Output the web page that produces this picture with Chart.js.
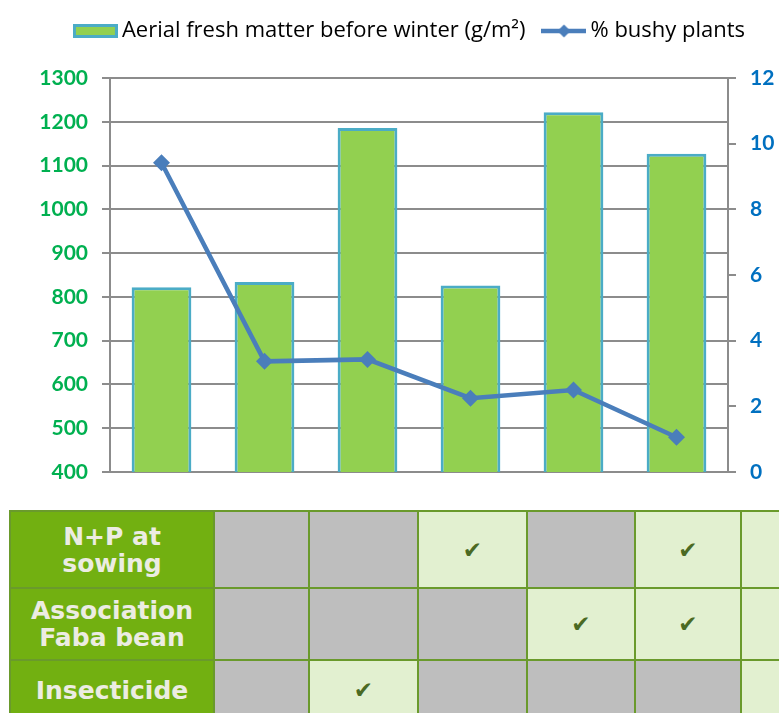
<!DOCTYPE html>
<html>
<head>
<meta charset="utf-8">
<script src="https://cdn.jsdelivr.net/npm/chart.js@4/dist/chart.umd.min.js"></script>
<style>
    html, body {
        margin: 0;
        padding: 0;
        background: #ffffff;
        width: 779px;
        height: 713px;
        overflow: hidden;
        position: relative;
    }
    #chart-wrap {
        position: absolute;
        left: 0;
        top: 0;
        width: 779px;
        height: 500px;
    }
    #treatments {
        position: absolute;
        left: 9px;
        top: 510px;
        width: 837px;
        border-collapse: collapse;
        table-layout: fixed;
        font-family: "DejaVu Sans", sans-serif;
    }
    #treatments td {
        border: 2px solid #6a9a2c;
        padding: 0;
        text-align: center;
        vertical-align: middle;
    }
    #treatments td.row-head {
        background: #72b011;
        color: #ecece2;
        font-weight: bold;
        font-size: 25px;
        line-height: 27px;
    }
    #treatments td.off {
        background: #bebebe;
    }
    #treatments td.on {
        background: #e2f0d0;
        color: #4b6a23;
        font-size: 23px;
    }
</style>
</head>
<body>
<div id="chart-wrap">
    <canvas id="fresh-matter-chart" width="779" height="500"></canvas>
</div>
<table id="treatments"></table>

<script>
const categories = ['T1', 'T2', 'T3', 'T4', 'T5', 'T6'];
const freshMatter = [822, 834, 1186, 826, 1222, 1127];
const bushyPlants = [9.42, 3.37, 3.43, 2.25, 2.5, 1.06];

const leftTicks = { min: 400, max: 1300, step: 100 };
const rightTicks = { min: 0, max: 12, step: 2 };

const treatmentRows = ['N+P at<br>sowing', 'Association<br>Faba bean', 'Insecticide'];
const npAtSowing = [0, 0, 1, 0, 1, 1];
const fabaBean = [0, 0, 0, 1, 1, 1];
const insecticide = [0, 1, 0, 0, 0, 1];

const barFill = '#92d050';
const barBorder = '#4bacc6';
const lineColor = '#4a7ebb';
const gridColor = '#8c8c8c';

// legend swatches drawn as small canvases so they look like the Excel ones
function barSwatch() {
    const c = document.createElement('canvas');
    c.width = 45;
    c.height = 14;
    const ctx = c.getContext('2d');
    ctx.fillStyle = barFill;
    ctx.fillRect(1.5, 1.5, 42, 11);
    ctx.strokeStyle = barBorder;
    ctx.lineWidth = 3;
    ctx.strokeRect(1.5, 1.5, 42, 11);
    return c;
}

function lineSwatch() {
    const c = document.createElement('canvas');
    c.width = 45;
    c.height = 16;
    const ctx = c.getContext('2d');
    ctx.strokeStyle = lineColor;
    ctx.lineWidth = 4.5;
    ctx.beginPath();
    ctx.moveTo(0, 8);
    ctx.lineTo(45, 8);
    ctx.stroke();
    ctx.fillStyle = lineColor;
    ctx.beginPath();
    ctx.moveTo(22.5, 1.5);
    ctx.lineTo(29, 8);
    ctx.lineTo(22.5, 14.5);
    ctx.lineTo(16, 8);
    ctx.closePath();
    ctx.fill();
    return c;
}

const swatches = [barSwatch(), lineSwatch()];

// room under the legend, and nudge the legend row a bit to the right
const legendSpacer = {
    id: 'legendSpacer',
    beforeLayout(chart) {
        const legend = chart.legend;
        if (!legend || legend._spaced) {
            return;
        }
        const fit = legend.fit.bind(legend);
        legend.fit = function () {
            fit();
            this.height += 26;
            this.lineWidths[0] -= 46;
        };
        legend._spaced = true;
    }
};

new Chart(document.getElementById('fresh-matter-chart'), {
    data: {
        labels: categories,
        datasets: [{
            type: 'bar',
            label: 'Aerial fresh matter before winter (g/m²)',
            data: freshMatter,
            yAxisID: 'y',
            backgroundColor: barFill,
            borderColor: barBorder,
            borderWidth: 3,
            borderSkipped: false,
            barPercentage: 0.58,
            categoryPercentage: 1,
            order: 2
        }, {
            type: 'line',
            label: '% bushy plants',
            data: bushyPlants,
            yAxisID: 'y1',
            borderColor: lineColor,
            backgroundColor: lineColor,
            borderWidth: 4.5,
            pointStyle: 'rectRot',
            pointRadius: 8.5,
            pointBorderWidth: 0,
            tension: 0,
            order: 1
        }]
    },
    plugins: [legendSpacer],
    options: {
        responsive: false,
        animation: false,
        layout: {
            padding: { left: 0, right: 0, top: -3, bottom: 28 }
        },
        plugins: {
            tooltip: { enabled: false },
            legend: {
                position: 'top',
                labels: {
                    usePointStyle: true,
                    pointStyleWidth: 31,
                    padding: 23,
                    color: '#000000',
                    font: { family: 'Open Sans', size: 22 },
                    generateLabels: (chart) => chart.data.datasets.map((ds, i) => ({
                        text: ds.label,
                        pointStyle: swatches[i],
                        datasetIndex: i,
                        lineWidth: 0,
                        fontColor: '#000000'
                    }))
                }
            }
        },
        scales: {
            x: {
                afterFit: (scale) => {
                    scale.height = 0;
                    scale.paddingLeft = 0;
                    scale.paddingRight = 0;
                },
                grid: { display: false, drawTicks: false },
                ticks: { display: false },
                border: { color: gridColor, width: 2 }
            },
            y: {
                position: 'left',
                min: leftTicks.min,
                max: leftTicks.max,
                afterFit: (scale) => { scale.width = 110; },
                ticks: {
                    stepSize: leftTicks.step,
                    color: '#00b050',
                    padding: 14,
                    font: { family: 'Lato', size: 21, weight: 'bold' },
                    callback: (value) => String(value)
                },
                grid: { color: gridColor, lineWidth: 2, tickLength: 8 },
                border: { color: gridColor, width: 2 }
            },
            y1: {
                position: 'right',
                min: rightTicks.min,
                max: rightTicks.max,
                afterFit: (scale) => { scale.width = 51; },
                ticks: {
                    stepSize: rightTicks.step,
                    color: '#0070c0',
                    padding: 14,
                    font: { family: 'Lato', size: 21, weight: 'bold' },
                    callback: (value) => String(value)
                },
                grid: { drawOnChartArea: false, color: gridColor, lineWidth: 2, tickLength: 8 },
                border: { color: gridColor, width: 2 }
            }
        }
    }
});

// treatment grid under the chart
const colWidths = [204, 95, 109, 109, 108, 106, 106];
const rowHeights = [77, 72, 60];
const rowValues = [npAtSowing, fabaBean, insecticide];
const table = document.getElementById('treatments');

const colgroup = document.createElement('colgroup');
colWidths.forEach((w) => {
    const col = document.createElement('col');
    col.style.width = w + 'px';
    colgroup.appendChild(col);
});
table.appendChild(colgroup);

treatmentRows.forEach((name, r) => {
    const tr = document.createElement('tr');
    tr.style.height = rowHeights[r] + 'px';
    const head = document.createElement('td');
    head.className = 'row-head';
    head.innerHTML = name;
    tr.appendChild(head);
    rowValues[r].forEach((v) => {
        const td = document.createElement('td');
        td.className = v ? 'on' : 'off';
        td.textContent = v ? '✔' : '';
        tr.appendChild(td);
    });
    table.appendChild(tr);
});
</script>
</body>
</html>
